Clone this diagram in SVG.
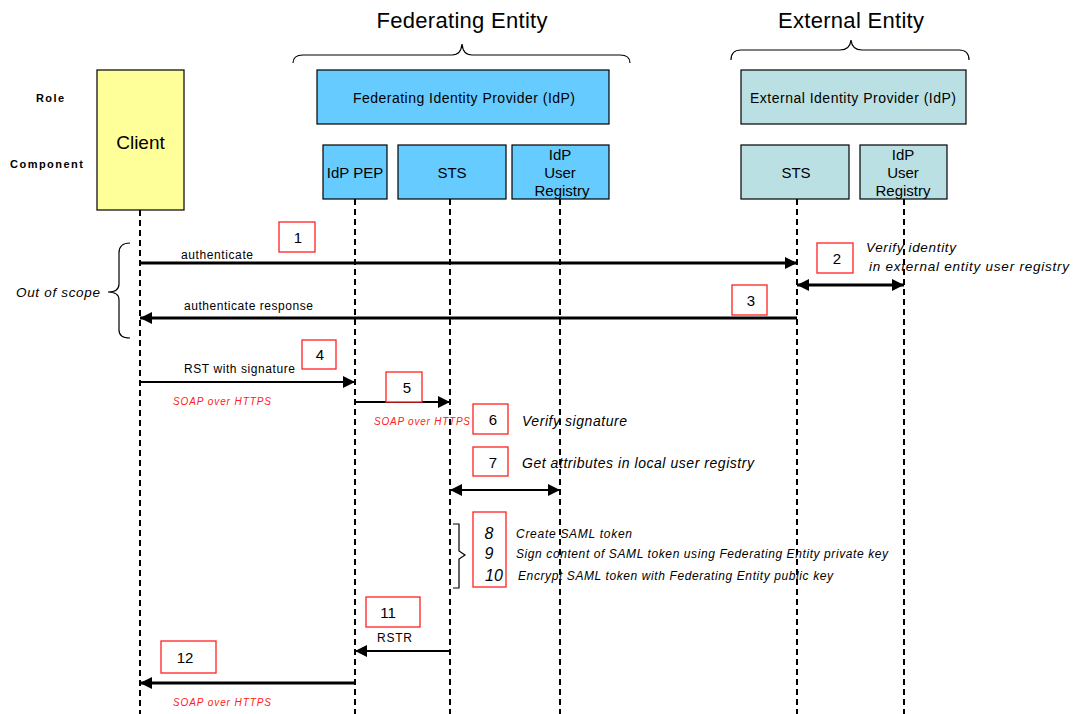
<svg xmlns="http://www.w3.org/2000/svg" width="1073" height="714" viewBox="0 0 1073 714">
  <style>
    text { font-family: "Liberation Sans", Arial, sans-serif; fill: #000; }
    .title { font-size: 22px; text-anchor: middle; }
    .axis { font-size: 11px; font-weight: bold; }
    .box { stroke: #000; stroke-width: 1.2; }
    .fed { fill: #66CCFF; }
    .ext { fill: #BBE0E3; }
    .client { fill: #FFFF99; }
    .lbl { font-size: 15px; text-anchor: middle; }
    .role { font-size: 14px; }
    .life { stroke: #000; stroke-width: 2; stroke-dasharray: 6 4; fill: none; }
    .brace { stroke: #000; stroke-width: 1.2; fill: none; }
    .step { fill: #fff; stroke: #FF2020; stroke-width: 1.3; }
    .num { font-size: 15px; text-anchor: middle; }
    .msg { font-size: 12px; }
    .note { font-size: 14px; font-style: italic; }
    .small { font-size: 12px; font-style: italic; }
    .proto { font-size: 10px; font-style: italic; fill: #FF2020; }
    .thick { stroke: #000; stroke-width: 3; fill: none; }
    .thin { stroke: #000; stroke-width: 2; fill: none; }
  </style>
  <defs>
    <marker id="ah" viewBox="0 0 10 10" refX="10" refY="5" markerWidth="14" markerHeight="12" markerUnits="userSpaceOnUse" orient="auto-start-reverse">
      <path d="M0,0 L10,5 L0,10 Z" fill="#000"/>
    </marker>
  </defs>

  <!-- row headings -->
  <text class="axis" x="36" y="102" textLength="28">Role</text>
  <text class="axis" x="10" y="168" textLength="73">Component</text>

  <!-- entity headings with braces -->
  <g id="federating-entity">
    <text class="title" x="462" y="28" textLength="171">Federating Entity</text>
    <path class="brace" d="M293,63 Q293,55 303,55 L452,55 Q461,55 462,44 Q463,55 472,55 L620,55 Q630,55 630,63"/>
  </g>
  <g id="external-entity">
    <text class="title" x="851" y="28" textLength="146">External Entity</text>
    <path class="brace" d="M731,60 Q731,50 741,50 L840,50 Q850,50 851,40 Q852,50 862,50 L959,50 Q969,50 969,60"/>
  </g>

  <!-- lifelines -->
  <g id="lifelines">
    <line class="life" x1="140" y1="210" x2="140" y2="714"/>
    <line class="life" x1="355" y1="199" x2="355" y2="714"/>
    <line class="life" x1="450" y1="199" x2="450" y2="714"/>
    <line class="life" x1="560" y1="199" x2="560" y2="714"/>
    <line class="life" x1="797" y1="199" x2="797" y2="714"/>
    <line class="life" x1="904" y1="199" x2="904" y2="714"/>
  </g>

  <!-- nodes -->
  <g id="client">
    <rect class="box client" x="97" y="70" width="87" height="140"/>
    <text x="140.5" y="149" style="font-size:19px;text-anchor:middle">Client</text>
  </g>
  <g id="federating-idp">
    <rect class="box fed" x="317" y="70" width="292" height="54"/>
    <text class="role" x="353" y="103" textLength="222">Federating Identity Provider (IdP)</text>
  </g>
  <g id="idp-pep">
    <rect class="box fed" x="323" y="145" width="64" height="54"/>
    <text class="lbl" x="355" y="178">IdP PEP</text>
  </g>
  <g id="fed-sts">
    <rect class="box fed" x="398" y="145" width="108" height="54"/>
    <text class="lbl" x="452" y="178">STS</text>
  </g>
  <g id="fed-registry">
    <rect class="box fed" x="512" y="145" width="97" height="54"/>
    <text class="lbl" x="560" y="160">IdP</text>
    <text class="lbl" x="560" y="178">User</text>
    <text class="lbl" x="562" y="196">Registry</text>
  </g>
  <g id="external-idp">
    <rect class="box ext" x="741" y="70" width="225" height="54"/>
    <text class="role" x="750" y="103" textLength="206">External Identity Provider (IdP)</text>
  </g>
  <g id="ext-sts">
    <rect class="box ext" x="741" y="145" width="108" height="54"/>
    <text class="lbl" x="796" y="178">STS</text>
  </g>
  <g id="ext-registry">
    <rect class="box ext" x="860" y="145" width="87" height="54"/>
    <text class="lbl" x="903" y="160">IdP</text>
    <text class="lbl" x="903" y="178">User</text>
    <text class="lbl" x="903" y="196">Registry</text>
  </g>

  <!-- out of scope bracket -->
  <g id="out-of-scope">
    <path class="brace" d="M130,243 Q119,243 119,253 L119,284 Q119,292 108,292 Q119,292 119,300 L119,330 Q119,338 130,338"/>
    <text class="note" x="16" y="297" style="font-size:13.5px" textLength="84">Out of scope</text>
  </g>

  <!-- messages -->
  <g id="connectors">
    <line class="thick" x1="140" y1="263" x2="797" y2="263" marker-end="url(#ah)"/>
    <line class="thick" x1="797" y1="318" x2="140" y2="318" marker-end="url(#ah)"/>
    <line class="thick" x1="797" y1="285" x2="904" y2="285" marker-start="url(#ah)" marker-end="url(#ah)"/>
    <line class="thin" x1="140" y1="382" x2="355" y2="382" marker-end="url(#ah)"/>
    <line class="thin" x1="355" y1="402" x2="450" y2="402" marker-end="url(#ah)"/>
    <line class="thin" x1="450" y1="490" x2="560" y2="490" marker-start="url(#ah)" marker-end="url(#ah)"/>
    <line class="thin" x1="450" y1="651" x2="355" y2="651" marker-end="url(#ah)"/>
    <line class="thick" x1="355" y1="683" x2="140" y2="683" marker-end="url(#ah)"/>
  </g>

  <!-- message labels -->
  <g id="labels">
    <text class="msg" x="181" y="259" textLength="72">authenticate</text>
    <text class="msg" x="184" y="310" textLength="129">authenticate response</text>
    <text class="msg" x="184" y="373" textLength="111">RST with signature</text>
    <text class="proto" x="173" y="405" textLength="98">SOAP over HTTPS</text>
    <text class="proto" x="374" y="425" textLength="96">SOAP over HTTPS</text>
    <text class="msg" x="377" y="642" textLength="35">RSTR</text>
    <text class="proto" x="173" y="706" textLength="98">SOAP over HTTPS</text>
    <text class="note" x="866" y="252" style="font-size:13.5px" textLength="90">Verify identity</text>
    <text class="note" x="869" y="271" style="font-size:13.5px" textLength="200">in external entity user registry</text>
    <text class="note" x="522" y="426" textLength="105">Verify signature</text>
    <text class="note" x="522" y="468" textLength="232">Get attributes in local user registry</text>
    <text class="small" x="516" y="538" textLength="116">Create SAML token</text>
    <text class="small" x="516" y="558" textLength="372">Sign content of SAML token using Federating Entity private key</text>
    <text class="small" x="518" y="580" textLength="315">Encrypt SAML token with Federating Entity public key</text>
  </g>

  <!-- step numbers -->
  <g id="steps">
    <rect class="step" x="279" y="222" width="36" height="30"/>
    <text class="num" x="298" y="243">1</text>
    <rect class="step" x="817" y="243" width="36" height="30"/>
    <text class="num" x="837" y="264">2</text>
    <rect class="step" x="732" y="285" width="35" height="30"/>
    <text class="num" x="751" y="306">3</text>
    <rect class="step" x="302" y="340" width="34" height="29"/>
    <text class="num" x="320" y="360">4</text>
    <rect class="step" x="386" y="372" width="36" height="30"/>
    <text class="num" x="407" y="393">5</text>
    <rect class="step" x="473" y="404" width="35" height="30"/>
    <text class="num" x="493" y="425">6</text>
    <rect class="step" x="473" y="447" width="35" height="29"/>
    <text class="num" x="493" y="468">7</text>
    <rect class="step" x="473" y="512" width="33" height="75"/>
    <text class="num" x="489" y="539" style="font-style:italic;font-size:16px">8</text>
    <text class="num" x="489" y="559" style="font-style:italic;font-size:16px">9</text>
    <text class="num" x="494" y="581" style="font-style:italic;font-size:16px">10</text>
    <rect class="step" x="366" y="597" width="54" height="30"/>
    <text class="num" x="388" y="618">11</text>
    <rect class="step" x="161" y="641" width="55" height="32"/>
    <text class="num" x="185" y="663">12</text>
  </g>

  <!-- bracket for steps 8-10 -->
  <path class="brace" d="M453,524 L459,524 L459,551 L465,555 L459,559 L459,588 L453,588"/>
</svg>
